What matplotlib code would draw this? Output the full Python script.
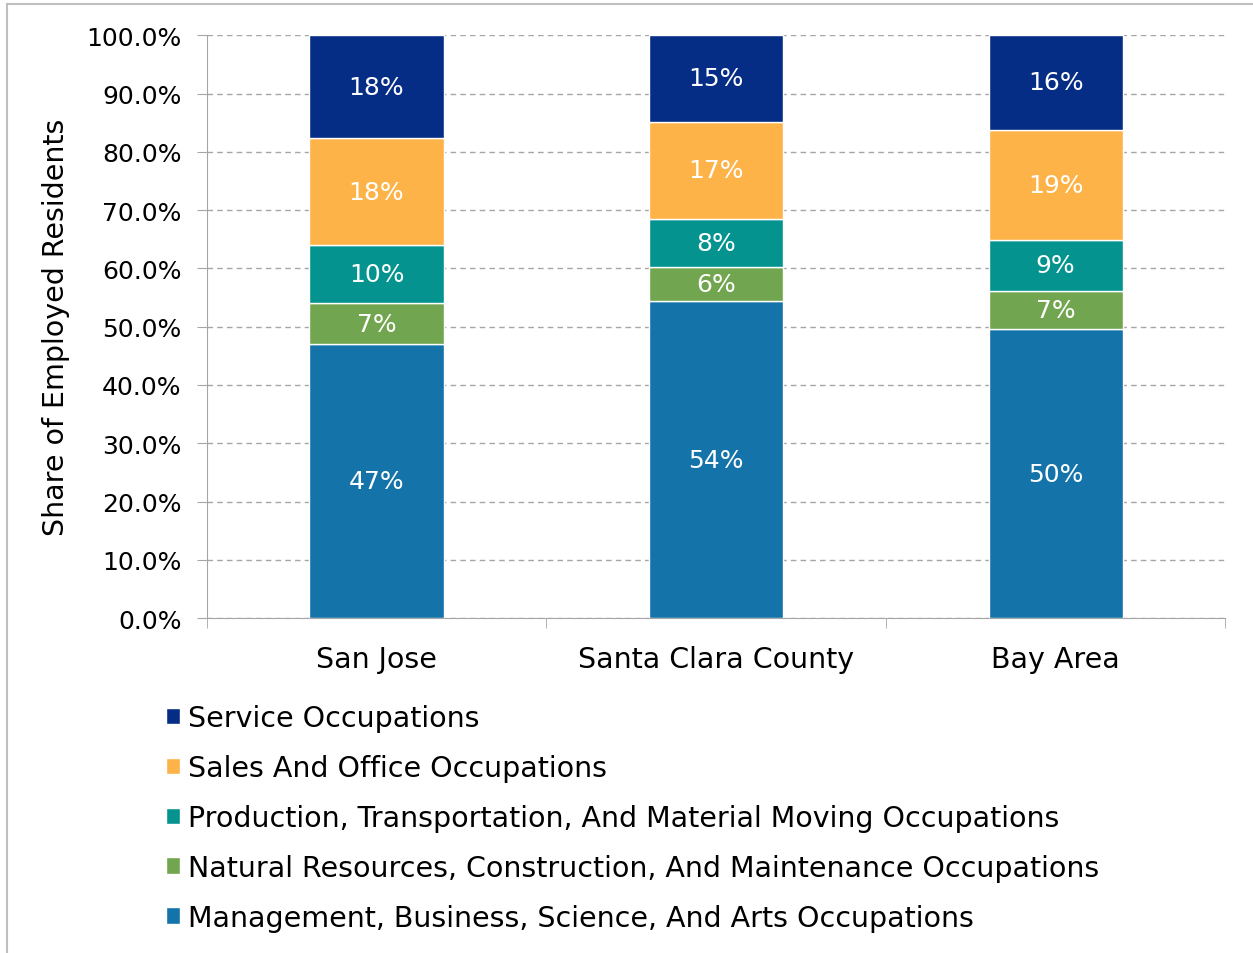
import matplotlib.pyplot as plt
import numpy as np
from matplotlib.patches import Rectangle

plt.rcParams['font.family'] = ['DejaVu Sans']

# Data: share of employed residents by occupation (%)
places = ["San Jose", "Santa Clara County", "Bay Area"]
occupations = [
    "Management, Business, Science, And Arts Occupations",
    "Natural Resources, Construction, And Maintenance Occupations",
    "Production, Transportation, And Material Moving Occupations",
    "Sales And Office Occupations",
    "Service Occupations",
]
management = [47.0, 54.4, 49.6]
natural = [7.0, 5.8, 6.6]
production = [10.0, 8.2, 8.7]
sales = [18.3, 16.8, 18.9]
service = [17.7, 14.8, 16.2]
colors = ["#1473A9", "#72A54F", "#04938F", "#FDB347", "#062D86"]

series = [management, natural, production, sales, service]

fig = plt.figure(figsize=(12.53, 9.54), dpi=100)
ax = fig.add_axes([0.165, 0.351, 0.813, 0.611])

x = np.arange(len(places))
bottom = np.zeros(len(places))
bars = []
for vals, col, name in zip(series, colors, occupations):
    vals = np.array(vals)
    b = ax.bar(x, vals, 0.395, bottom=bottom, color=col, edgecolor="white",
               linewidth=1, label=name, zorder=3)
    bars.append(b)
    for xi, v, b0 in zip(x, vals, bottom):
        ax.text(xi, b0 + v / 2, f"{v:.0f}%", ha="center", va="center",
                color="white", fontsize=18, zorder=4)
    bottom += vals

ax.set_xlim(-0.5, 2.5)
ax.set_ylim(0, 100)
ax.set_yticks(np.arange(0, 101, 10))
ax.set_yticklabels([f"{t:.1f}%" for t in np.arange(0, 101, 10)], fontsize=18)
ax.set_xticks(x)
ax.set_xticklabels(places, fontsize=20.5)
ax.set_xticks([-0.5, 0.5, 1.5, 2.5], minor=True)
ax.tick_params(axis="x", which="major", length=0, pad=19)
ax.tick_params(axis="x", which="minor", length=7, color="#A6A6A6")
ax.tick_params(axis="y", length=7, color="#A6A6A6", pad=11)
ax.yaxis.grid(True, linestyle=(0, (4, 3)), color="#A6A6A6", linewidth=1, zorder=0)
for s in ["top", "right"]:
    ax.spines[s].set_visible(False)
for s in ["left", "bottom"]:
    ax.spines[s].set_color("#A6A6A6")
ax.set_ylabel("Share of Employed Residents", fontsize=20.5, labelpad=12)

handles = bars[::-1]
labels = occupations[::-1]
fig.legend(handles, labels, loc="upper left", bbox_to_anchor=(0.123, 0.273),
           frameon=False, fontsize=20.5, handlelength=0.5, handleheight=0.5,
           handletextpad=0.3, labelspacing=0.77, borderaxespad=0)

# outer chart frame (only left and top edges visible)
fig.patches.append(Rectangle((7 / 1253, -0.05), 1.1, 1.05 - 5 / 954,
                             transform=fig.transFigure, fill=False,
                             edgecolor="#BFBFBF", linewidth=1.5))

fig.savefig("out.png", dpi=100)
